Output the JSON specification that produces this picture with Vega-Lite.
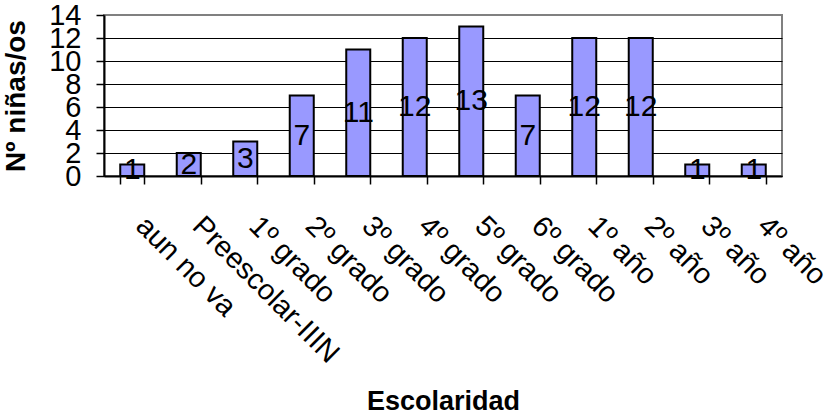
{
  "$schema": "https://vega.github.io/schema/vega-lite/v6.json",
  "autosize": "none",
  "width": 678,
  "height": 161,
  "padding": {"left": 104, "top": 15, "right": 52, "bottom": 241},
  "background": "white",
  "config": {
    "font": "Liberation Sans",
    "view": {"stroke": "#808080", "strokeWidth": 2}
  },
  "data": {
    "values": [
      {"escolaridad": "aun no va", "n": 1},
      {"escolaridad": "Preescolar-IIIN", "n": 2},
      {"escolaridad": "1º grado", "n": 3},
      {"escolaridad": "2º grado", "n": 7},
      {"escolaridad": "3º grado", "n": 11},
      {"escolaridad": "4º grado", "n": 12},
      {"escolaridad": "5º grado", "n": 13},
      {"escolaridad": "6º grado", "n": 7},
      {"escolaridad": "1º año", "n": 12},
      {"escolaridad": "2º año", "n": 12},
      {"escolaridad": "3º año", "n": 1},
      {"escolaridad": "4º año", "n": 1}
    ]
  },
  "encoding": {
    "x": {
      "field": "escolaridad",
      "type": "nominal",
      "sort": null,
      "scale": {"paddingInner": 0.575, "paddingOuter": 0.2875},
      "axis": {
        "title": "Escolaridad",
        "titleFont": "Liberation Sans",
        "titleFontSize": 27,
        "titleFontWeight": "bold",
        "titleColor": "black",
        "titleX": 339,
        "titleY": 225,
        "titleAlign": "center",
        "titleBaseline": "middle",
        "labelAngle": 45,
        "labelAlign": "left",
        "labelBaseline": "top",
        "labelFontSize": 29,
        "labelColor": "black",
        "labelPadding": 27,
        "labelOffset": 18,
        "labelOverlap": false,
        "labelLimit": 0,
        "tickBand": "extent",
        "tickSize": 8,
        "tickColor": "black",
        "tickWidth": 1.5,
        "domainColor": "black",
        "domainWidth": 2
      }
    }
  },
  "layer": [
    {
      "mark": {"type": "bar", "fill": "#9999FF", "stroke": "black", "strokeWidth": 2},
      "encoding": {
        "y": {
          "field": "n",
          "type": "quantitative",
          "scale": {"domain": [0, 14], "nice": false},
          "axis": {
            "title": "Nº niñas/os",
            "titleFont": "Liberation Sans",
            "titleFontSize": 28,
            "titleFontWeight": "bold",
            "titleColor": "black",
            "titleAngle": -90,
            "titleX": -88,
            "titleY": 80.5,
            "titleAlign": "center",
            "titleBaseline": "middle",
            "values": [0, 2, 4, 6, 8, 10, 12, 14],
            "labelFontSize": 29,
            "labelColor": "black",
            "labelPadding": 15,
            "labelOverlap": false,
            "labelBaseline": "middle",
            "tickSize": 8,
            "tickColor": "black",
            "tickWidth": 1.5,
            "domainColor": "black",
            "domainWidth": 2,
            "grid": true,
            "gridColor": {"condition": {"test": "datum.value === 14", "value": "#808080"}, "value": "black"},
            "gridWidth": 1.2
          }
        }
      }
    },
    {
      "mark": {"type": "text", "fontSize": 30, "color": "black", "baseline": "middle", "align": "center", "font": "Liberation Sans"},
      "encoding": {
        "y": {
          "field": "n",
          "type": "quantitative",
          "scale": {"domain": [0, 28], "nice": false},
          "axis": null
        },
        "text": {"field": "n", "type": "quantitative"}
      }
    }
  ],
  "resolve": {"scale": {"y": "independent"}}
}
